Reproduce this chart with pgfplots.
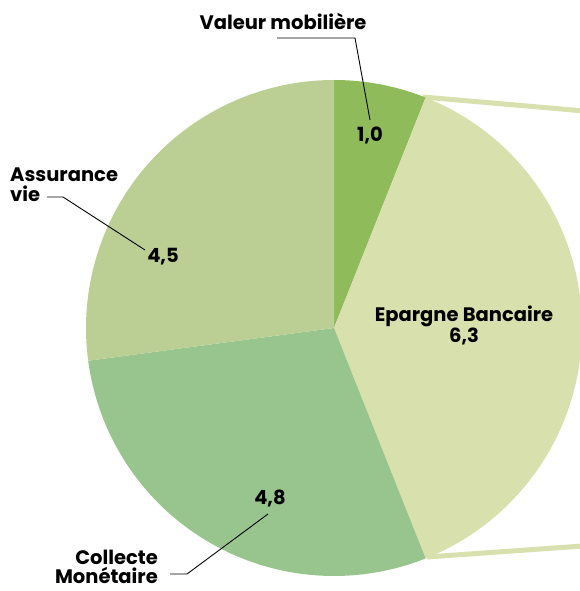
\documentclass[border=0pt]{standalone}
\usepackage{pgfplots}
\pgfplotsset{compat=1.18}
\usepackage{fontspec}
\setmainfont{Poppins}
\definecolor{cVal}{HTML}{8FBB5A}
\definecolor{cEpa}{HTML}{D8E1AD}
\definecolor{cCol}{HTML}{98C48D}
\definecolor{cAss}{HTML}{BBCF94}
% values (Mds)
\def\vA{1.0}% Valeur mobiliere
\def\vB{6.3}% Epargne Bancaire
\def\vC{4.8}% Collecte Monetaire
\def\vD{4.5}% Assurance vie
\pgfmathsetmacro\tot{\vA+\vB+\vC+\vD}
\pgfmathsetmacro\aA{90}
\pgfmathsetmacro\aB{\aA-360*\vA/\tot}
\pgfmathsetmacro\aC{\aB-360*\vB/\tot}
\pgfmathsetmacro\aD{\aC-360*\vC/\tot}
\pgfmathsetmacro\aE{\aD-360*\vD/\tot}
\begin{document}
\begin{tikzpicture}
\useasboundingbox (0,0) rectangle (579pt,591pt);
\begin{axis}[at={(0,0)},anchor=south west,scale only axis,width=579pt,height=591pt,
  xmin=0,xmax=579,ymin=0,ymax=591,hide axis,clip=false]
\draw[cEpa,line width=5pt] (axis cs:423,494) -- (axis cs:590,479.5);
\draw[cEpa,line width=5pt] (axis cs:427,34) -- (axis cs:590,45.5);
\fill[cVal] (axis cs:334,263) -- ++(\aA:248pt) arc[start angle=\aA,end angle=\aB,radius=248pt] -- cycle;
\fill[cEpa] (axis cs:334,263) -- ++(\aB:248pt) arc[start angle=\aB,end angle=\aC,radius=248pt] -- cycle;
\fill[cCol] (axis cs:334,263) -- ++(\aC:248pt) arc[start angle=\aC,end angle=\aD,radius=248pt] -- cycle;
\fill[cAss] (axis cs:334,263) -- ++(\aD:248pt) arc[start angle=\aD,end angle=\aE,radius=248pt] -- cycle;
% leader lines
\draw[black,line width=0.9pt] (axis cs:277,553) -- (axis cs:355,553) -- (axis cs:370,471);
\draw[black,line width=0.9pt] (axis cs:47,394) -- (axis cs:63,394) -- (axis cs:145,341);
\draw[black,line width=0.9pt] (axis cs:170,17) -- (axis cs:187,17) -- (axis cs:268,77);
% labels
\begin{scope}[every node/.style={font=\fontsize{19.5}{23}\selectfont\bfseries,inner sep=0pt}]
\node[anchor=base] at (axis cs:283,561) {Valeur mobilière};
\node[anchor=base] at (axis cs:370,449) {1,0};
\node[anchor=base west] at (axis cs:10,409) {Assurance};
\node[anchor=base west] at (axis cs:10,389) {vie};
\node[anchor=base] at (axis cs:163,328) {4,5};
\node[anchor=base] at (axis cs:270,86) {4,8};
\node[anchor=base east] at (axis cs:158,26) {Collecte};
\node[anchor=base east] at (axis cs:158,8) {Monétaire};
\node[anchor=base] at (axis cs:464,269) {Epargne Bancaire};
\node[anchor=base] at (axis cs:464,248) {6,3};
\end{scope}
\end{axis}
\end{tikzpicture}
\end{document}
